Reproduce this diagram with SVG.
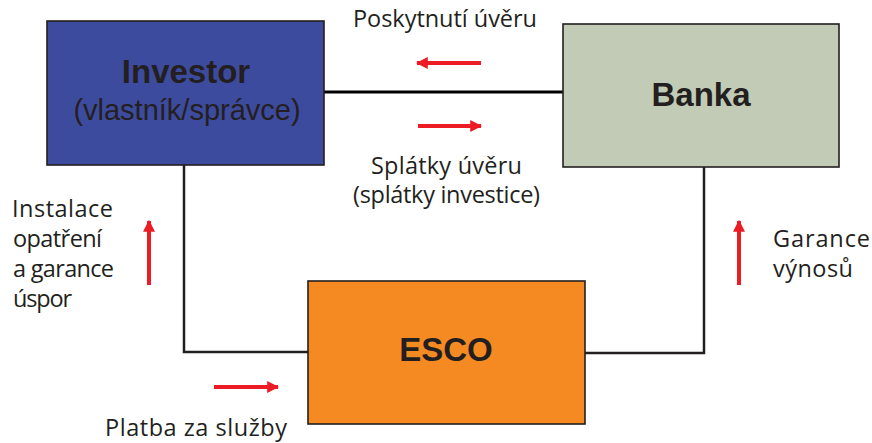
<svg xmlns="http://www.w3.org/2000/svg" width="872" height="443" viewBox="0 0 872 443">
  <defs>
    <marker id="head" viewBox="0 0 10 10" refX="9" refY="5" markerWidth="3" markerHeight="3" orient="auto" markerUnits="strokeWidth">
      <path d="M0,0 L10,5 L0,10 z" fill="#ed1c24"/>
    </marker>
    <style>
      .box { stroke: #231f20; stroke-width: 1.6; }
      .title { font-family: "Liberation Sans", Arial, sans-serif; font-weight: bold; font-size: 33px; fill: #231f20; text-anchor: middle; }
      .sub { font-family: "Liberation Sans", Arial, sans-serif; font-size: 29px; fill: #231f20; text-anchor: middle; }
      .lbl { font-family: "Open Sans", "Noto Sans", sans-serif; font-size: 23.5px; fill: #231f20; }
      .wire { fill: none; stroke: #231f20; stroke-width: 2.5; }
      .flow { stroke: #ed1c24; stroke-width: 4; fill: none; marker-end: url(#head); }
    </style>
  </defs>
  <rect width="872" height="443" fill="#ffffff"/>

  <!-- connectors between the parties -->
  <g id="connectors">
    <line x1="324" y1="92" x2="563" y2="92" style="stroke:#000;stroke-width:3"/>
    <polyline class="wire" points="184,165 184,352 308,352"/>
    <polyline class="wire" points="704,167 704,353 585,353"/>
  </g>

  <!-- flow arrows -->
  <g id="flows">
    <line class="flow" x1="481" y1="63" x2="417" y2="63"/>
    <line class="flow" x1="418" y1="126" x2="481" y2="126"/>
    <line class="flow" x1="149" y1="285" x2="149" y2="221"/>
    <line class="flow" x1="739" y1="285" x2="739" y2="221"/>
    <line class="flow" x1="214" y1="387" x2="278" y2="387"/>
  </g>

  <g id="investor">
    <rect class="box" x="47" y="21" width="277" height="144" fill="#3d4b9f"/>
    <text class="title" x="186" y="83">Investor</text>
    <text class="sub" x="187" y="120">(vlastník/správce)</text>
  </g>

  <g id="banka">
    <rect class="box" x="563" y="24" width="276" height="143" fill="#c2cbb5"/>
    <text class="title" x="701" y="106">Banka</text>
  </g>

  <g id="esco">
    <rect class="box" x="308" y="281" width="277" height="143" fill="#f48a21"/>
    <text class="title" x="446" y="361">ESCO</text>
  </g>

  <!-- flow labels -->
  <g id="labels">
    <text class="lbl" x="353" y="27" textLength="184">Poskytnutí úvěru</text>
    <text class="lbl">
      <tspan x="371" y="174" textLength="151">Splátky úvěru</tspan>
      <tspan x="353" y="203" textLength="187">(splátky investice)</tspan>
    </text>
    <text class="lbl">
      <tspan x="12" y="217" textLength="101">Instalace</tspan>
      <tspan x="13" y="247" textLength="89">opatření</tspan>
      <tspan x="13" y="277" textLength="101">a garance</tspan>
      <tspan x="13" y="307" textLength="59">úspor</tspan>
    </text>
    <text class="lbl">
      <tspan x="773" y="247" textLength="97">Garance</tspan>
      <tspan x="773" y="277" textLength="80">výnosů</tspan>
    </text>
    <text class="lbl" x="105" y="436" textLength="182">Platba za služby</text>
  </g>
</svg>
